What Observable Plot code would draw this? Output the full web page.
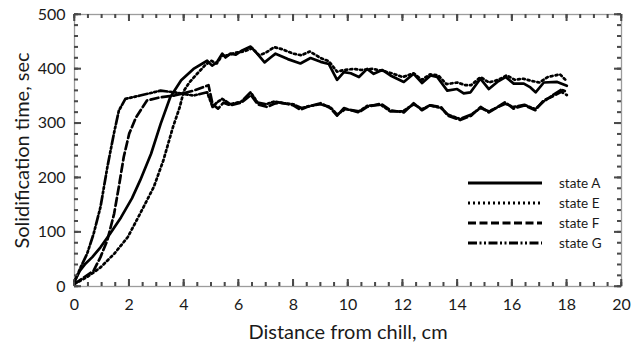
<!DOCTYPE html>
<html><head><meta charset="utf-8">
<script src="https://cdn.jsdelivr.net/npm/d3@7"></script>
<script src="https://cdn.jsdelivr.net/npm/@observablehq/plot@0.6"></script>
<style>
body{margin:0;background:#fff;}
#wrap{position:relative;width:633px;height:349px;font-family:Lato,"Open Sans",sans-serif;}
#overlay{position:absolute;left:0;top:0;pointer-events:none;}
</style></head><body><div id="wrap"></div>
<script>
// ---- data ----
const distA = [0,0.2,0.4,0.65,0.95,1.3,1.7,2.1,2.4,2.8,3.15,3.5,3.9,4.35,4.85,5.03,5.2,5.4,5.52,5.7,5.9,6.13,6.44,6.68,6.95,7.17,7.35,7.8,8.26,8.63,9.0,9.3,9.6,9.85,10.1,10.4,10.7,10.94,11.25,11.55,12.04,12.4,12.71,13.02,13.26,13.63,13.99,14.23,14.48,14.84,15.15,15.46,15.76,16.06,16.43,16.67,16.86,17.16,17.65,18.0];
const timeA = [10,29,42,54,72,97,127,162,195,244,299,348,379,400,415,406,412,428,421,428,426,434,441,428,412,421,428,418,410,420,413,409,380,394,392,385,400,391,398,388,376,391,374,388,385,360,363,355,357,382,363,376,385,373,373,366,357,375,376,369];

const distE = [0,0.45,0.95,1.45,1.95,2.4,2.9,3.25,3.6,3.85,4.0,4.2,4.5,4.8,5.0,5.2,5.4,5.6,5.9,6.2,6.5,6.75,7.0,7.3,7.6,8.0,8.3,8.6,9.0,9.3,9.6,9.85,10.2,10.5,10.9,11.3,11.6,12.0,12.4,12.7,13.0,13.3,13.6,14.0,14.3,14.5,14.85,15.15,15.5,15.8,16.1,16.4,16.7,17.0,17.3,17.75,17.95,18.0];
const timeE = [5,17,35,60,91,134,183,232,293,330,360,375,392,408,415,410,425,425,430,432,438,425,430,440,436,428,425,432,420,414,395,398,400,398,400,396,392,385,392,380,390,388,372,375,370,370,385,375,380,388,380,382,378,375,385,390,380,382];

const distF = [0,0.35,0.7,0.95,1.2,1.45,1.62,1.8,2.0,2.25,2.65,3.15,3.65,4.35,4.9,5.05,5.25,5.45,5.7,6.1,6.45,6.7,7.05,7.3,7.55,8.0,8.26,8.5,9.0,9.35,9.6,9.85,10.4,10.7,11.2,11.55,12.04,12.4,12.7,13.0,13.4,13.65,14.1,14.5,14.85,15.15,15.75,16.05,16.45,16.85,17.15,17.5,17.8,18.0];
const timeF = [5,17,29,54,85,134,183,238,281,311,342,348,351,360,370,335,327,338,333,338,352,335,330,336,338,333,325,330,337,328,314,328,320,330,336,324,320,337,324,333,330,314,306,314,330,320,339,327,333,324,342,350,358,352];

const distG = [0,0.22,0.46,0.7,0.95,1.2,1.44,1.62,1.86,2.4,3.15,3.65,4.35,4.85,5.05,5.2,5.4,5.7,6.1,6.44,6.7,7.0,7.3,7.6,8.0,8.3,8.6,9.0,9.35,9.6,9.9,10.4,10.7,11.2,11.55,12.0,12.4,12.7,13.0,13.4,13.65,14.1,14.5,14.85,15.15,15.75,16.05,16.45,16.85,17.15,17.5,17.8,18.0];
const timeG = [8,35,60,97,146,219,281,323,345,351,360,357,351,357,330,338,345,335,340,357,338,335,340,337,335,328,332,335,330,316,326,322,332,334,322,322,335,326,333,328,316,308,316,328,322,336,330,334,326,340,352,362,358];

const seriesNames = ["state A","state E","state F","state G"];
const xTickValues = [0,2,4,6,8,10,12,14,16,18,20];
const yTickValues = [0,100,200,300,400,500];
const xMinorTicks = d3.range(0, 20.01, 0.5);
const yMinorTicks = d3.range(0, 501, 20);

// ---- build ----
const W = 633, H = 349, mL = 74, mR = 12, mT = 14, mB = 63;
const innerW = W - mL - mR, innerH = H - mT - mB;
const dashes = [null, "2,3", "8,3.5", "9,2.5,2,2.5,2,2.5"];
const toRows = (xs, ys) => xs.map((x, i) => ({x, y: ys[i]}));
const seriesData = [toRows(distA, timeA), toRows(distE, timeE), toRows(distF, timeF), toRows(distG, timeG)];
const tickColor = "#4a4a4a";
const tickWidth = 1.5;

// inward ticks as Plot rules trimmed by insets
const inTicks = (values, side, size) => {
  const st = {stroke: tickColor, strokeWidth: tickWidth};
  if (side === "bottom") return Plot.ruleX(values, {x: d => d, insetTop: innerH - size, ...st});
  if (side === "top") return Plot.ruleX(values, {x: d => d, insetBottom: innerH - size, ...st});
  if (side === "left") return Plot.ruleY(values, {y: d => d, insetRight: innerW - size, ...st});
  return Plot.ruleY(values, {y: d => d, insetLeft: innerW - size, ...st});
};

const chart = Plot.plot({
  width: W, height: H,
  marginLeft: mL, marginRight: mR, marginTop: mT, marginBottom: mB,
  style: {fontFamily: "Lato, 'Open Sans', sans-serif", color: "#1a1a1a", background: "white"},
  x: {domain: [0, 20]},
  y: {domain: [0, 500]},
  marks: [
    Plot.frame({stroke: "#9c9c9c", strokeWidth: 1.3, fill: "none"}),
    inTicks(xMinorTicks, "bottom", 4),
    inTicks(xMinorTicks, "top", 4),
    inTicks(yMinorTicks, "left", 4),
    inTicks(yMinorTicks, "right", 4),
    inTicks(xTickValues, "bottom", 7),
    inTicks(xTickValues, "top", 7),
    inTicks(yTickValues, "left", 7),
    inTicks(yTickValues, "right", 7),
    // tick labels
    Plot.axisX(xTickValues, {anchor: "bottom", tickSize: 0, tickPadding: 12, fontSize: 16, label: null, fill: "#1a1a1a"}),
    Plot.axisY(yTickValues, {anchor: "left", tickSize: 0, tickPadding: 9, fontSize: 16, label: null, fill: "#1a1a1a"}),
    // axis titles
    Plot.axisX([0], {anchor: "bottom", tickSize: 0, tickFormat: () => "", label: "Distance from chill, cm", labelAnchor: "center", labelArrow: "none", labelOffset: 52, fontSize: 20, fill: "#1a1a1a"}),
    Plot.axisY([0], {anchor: "left", tickSize: 0, tickFormat: () => "", label: "Solidification time, sec", labelAnchor: "center", labelArrow: "none", labelOffset: 60, fontSize: 20, fill: "#1a1a1a"}),
    ...seriesData.map((d, i) => Plot.line(d, {x: "x", y: "y", stroke: "#000", strokeWidth: 2.7, strokeDasharray: dashes[i], strokeLinejoin: "round"}))
  ]
});

const wrap = document.getElementById("wrap");
wrap.appendChild(chart);

// overlay: the same inward ticks again, placed through Plot's own scales, plus the legend
const ns = "http://www.w3.org/2000/svg";
const ov = document.createElementNS(ns, "svg");
ov.setAttribute("id", "overlay");
ov.setAttribute("width", W);
ov.setAttribute("height", H);
const add = (tag, attrs) => { const e = document.createElementNS(ns, tag); for (const k in attrs) e.setAttribute(k, attrs[k]); ov.appendChild(e); return e; };

try {
  const xs = chart.scale("x"), ys = chart.scale("y");
  const sx = d3.scaleLinear(xs.domain, xs.range);
  const sy = d3.scaleLinear(ys.domain, ys.range);
  const [x0, x1] = xs.range, [yb, yt] = ys.range;
  const tick = {stroke: tickColor, "stroke-width": tickWidth};
  const xT = (values, size) => values.forEach(v => {
    const p = sx(v);
    add("line", {x1: p, x2: p, y1: yb, y2: yb - size, ...tick});
    add("line", {x1: p, x2: p, y1: yt, y2: yt + size, ...tick});
  });
  const yT = (values, size) => values.forEach(v => {
    const p = sy(v);
    add("line", {x1: x0, x2: x0 + size, y1: p, y2: p, ...tick});
    add("line", {x1: x1, x2: x1 - size, y1: p, y2: p, ...tick});
  });
  xT(xMinorTicks, 4); xT(xTickValues, 7);
  yT(yMinorTicks, 4); yT(yTickValues, 7);
} catch (e) { /* Plot rules above already draw the ticks */ }

seriesNames.forEach((name, i) => {
  const y = 183 + i * 20;
  const attrs = {x1: 468, x2: 542, y1: y, y2: y, stroke: "#000", "stroke-width": 2.8};
  if (dashes[i]) attrs["stroke-dasharray"] = dashes[i];
  add("line", attrs);
  const t = add("text", {x: 559, y, dy: "0.35em", "font-size": 13.5, "font-family": "Lato, 'Open Sans', sans-serif", fill: "#1a1a1a"});
  t.textContent = name;
});
wrap.appendChild(ov);
</script></body></html>
